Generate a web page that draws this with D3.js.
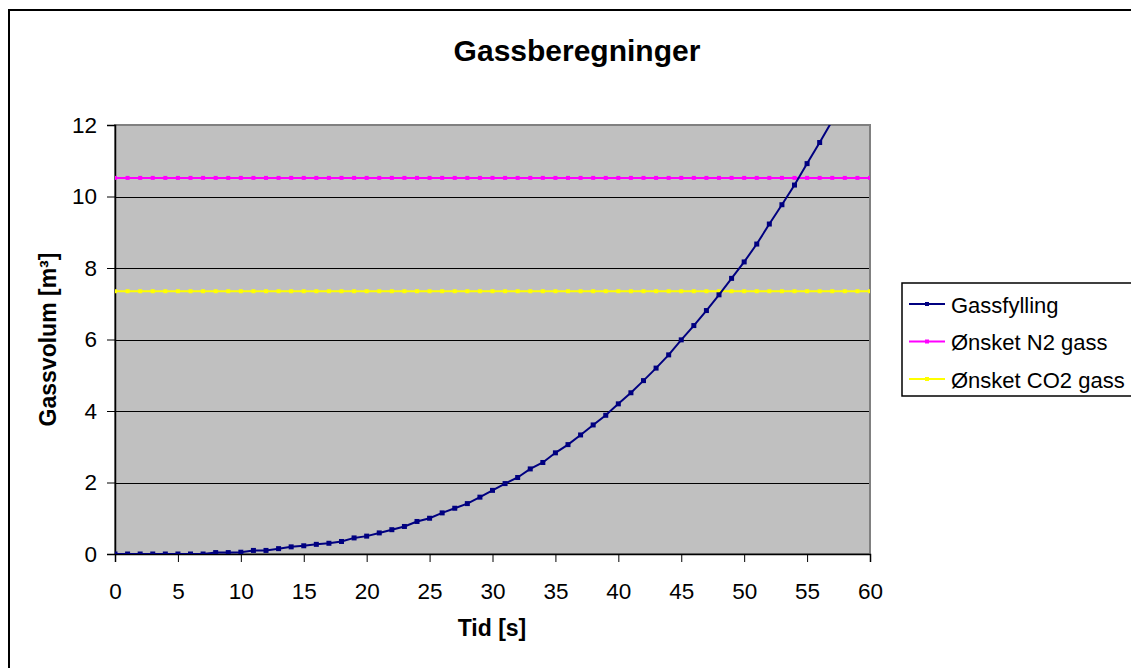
<!DOCTYPE html>
<html>
<head>
<meta charset="utf-8">
<script src="https://cdn.jsdelivr.net/npm/d3@7"></script>
<style>
  body { margin: 0; background: #fff; }
  text { font-family: "Liberation Sans", Arial, sans-serif; fill: #000; }
</style>
</head>
<body>
<svg id="chart"></svg>
<script>
// time axis, one reading per second
var tid = d3.range(0, 58);
var gassfylling = [0, 0, 0, 0, 0, 0, 0, 0, 0.04, 0.04,
  0.05, 0.1, 0.1, 0.15, 0.2, 0.23, 0.27, 0.3, 0.35, 0.45,
  0.5, 0.59, 0.68, 0.77, 0.91, 1.0, 1.15, 1.28, 1.41, 1.59,
  1.78, 1.97, 2.14, 2.38, 2.56, 2.83, 3.06, 3.33, 3.61, 3.88,
  4.2, 4.51, 4.85, 5.2, 5.57, 5.99, 6.39, 6.81, 7.25, 7.71,
  8.17, 8.67, 9.23, 9.77, 10.32, 10.92, 11.51, 12.12];
var tidFull = d3.range(0, 61);
var n2Gass = 10.52;
var co2Gass = 7.35;
var xTicks = [0, 5, 10, 15, 20, 25, 30, 35, 40, 45, 50, 55, 60];
var yTicks = [0, 2, 4, 6, 8, 10, 12];
var seriesNames = ["Gassfylling", "Ønsket N2 gass", "Ønsket CO2 gass"];
var seriesColors = ["#000080", "#FF00FF", "#FFFF00"];

var svgWidth = 1131, svgHeight = 668;
var plot = {left: 115, top: 125, right: 870, bottom: 554};

var svg = d3.select("#chart")
    .attr("width", svgWidth)
    .attr("height", svgHeight);

// chart frame (runs off the right/bottom edge like the original)
svg.append("rect")
  .attr("x", 9).attr("y", 10)
  .attr("width", 1140).attr("height", 680)
  .attr("fill", "#fff")
  .attr("stroke", "#000")
  .attr("stroke-width", 2);

var x = d3.scaleLinear().domain([0, 60]).range([plot.left, plot.right]);
var y = d3.scaleLinear().domain([0, 12]).range([plot.bottom, plot.top]);

svg.append("defs").append("clipPath").attr("id", "clip")
  .append("rect")
  .attr("x", plot.left).attr("y", plot.top)
  .attr("width", plot.right - plot.left)
  .attr("height", plot.bottom - plot.top);

// plot background
svg.append("rect")
  .attr("x", plot.left).attr("y", plot.top)
  .attr("width", plot.right - plot.left)
  .attr("height", plot.bottom - plot.top)
  .attr("fill", "#C0C0C0");

// gridlines
svg.append("g")
  .selectAll("line")
  .data(yTicks.filter(function(d){ return d > 0 && d < 12; }))
  .enter()
  .append("line")
    .attr("x1", plot.left).attr("x2", plot.right)
    .attr("y1", function(d){ return Math.round(y(d)) + 0.5; })
    .attr("y2", function(d){ return Math.round(y(d)) + 0.5; })
    .attr("stroke", "#000")
    .attr("stroke-width", 1);

// plot border
svg.append("rect")
  .attr("x", plot.left).attr("y", plot.top)
  .attr("width", plot.right - plot.left)
  .attr("height", plot.bottom - plot.top)
  .attr("fill", "none")
  .attr("stroke", "#808080")
  .attr("stroke-width", 2);

// axes
var xAxis = svg.append("g")
  .attr("transform", "translate(0," + plot.bottom + ")")
  .call(d3.axisBottom(x).tickValues(xTicks).tickSize(8).tickPadding(21));
var yAxis = svg.append("g")
  .attr("transform", "translate(" + plot.left + ",0)")
  .call(d3.axisLeft(y).tickValues(yTicks).tickSize(8).tickPadding(10));

[xAxis, yAxis].forEach(function(a){
  a.select(".domain").attr("stroke", "#000").attr("stroke-width", 1.5);
  a.selectAll(".tick line").attr("stroke", "#000");
  a.selectAll(".tick text")
    .style("font-family", "'Liberation Sans', Arial, sans-serif")
    .style("font-size", "22.5px")
    .attr("fill", "#000");
});

var lines = svg.append("g").attr("clip-path", "url(#clip)");
var line = d3.line()
  .x(function(d){ return x(d[0]); })
  .y(function(d){ return y(d[1]); });

var levels = [
  {val: n2Gass, color: seriesColors[1]},
  {val: co2Gass, color: seriesColors[2]}
];
levels.forEach(function(s){
  var pts = tidFull.map(function(t){ return [t, s.val]; });
  lines.append("path")
    .datum(pts)
    .attr("d", line)
    .attr("fill", "none")
    .attr("stroke", s.color)
    .attr("stroke-width", 2);
  lines.selectAll(null)
    .data(pts)
    .enter()
    .append("rect")
      .attr("x", function(d){ return x(d[0]) - 2; })
      .attr("y", function(d){ return y(d[1]) - 2; })
      .attr("width", 4).attr("height", 4)
      .attr("fill", s.color);
});

var fillPts = tid.map(function(t, i){ return [t, gassfylling[i]]; });
lines.append("path")
  .datum(fillPts)
  .attr("d", line)
  .attr("fill", "none")
  .attr("stroke", seriesColors[0])
  .attr("stroke-width", 2);
lines.selectAll(null)
  .data(fillPts)
  .enter()
  .append("rect")
    .attr("x", function(d){ return x(d[0]) - 2.5; })
    .attr("y", function(d){ return y(d[1]) - 2.5; })
    .attr("width", 5).attr("height", 5)
    .attr("fill", seriesColors[0]);

// titles
svg.append("text")
  .attr("x", 577).attr("y", 61)
  .style("text-anchor", "middle")
  .style("font-weight", "bold")
  .style("font-size", "30px")
  .text("Gassberegninger");

svg.append("text")
  .attr("x", 492).attr("y", 636)
  .style("text-anchor", "middle")
  .style("font-weight", "bold")
  .style("font-size", "23px")
  .text("Tid [s]");

svg.append("text")
  .attr("transform", "translate(56," + ((plot.top + plot.bottom) / 2) + ") rotate(-90)")
  .style("text-anchor", "middle")
  .style("font-weight", "bold")
  .style("font-size", "23px")
  .text("Gassvolum [m³]");

// legend
var legend = svg.append("g");
legend.append("rect")
  .attr("x", 902).attr("y", 283)
  .attr("width", 240).attr("height", 113)
  .attr("fill", "#fff")
  .attr("stroke", "#000")
  .attr("stroke-width", 1.5);

var item = legend.selectAll("g.item")
  .data(seriesNames)
  .enter()
  .append("g")
    .attr("class", "item")
    .attr("transform", function(d, i){ return "translate(0," + (304 + i * 37.5) + ")"; });
item.append("line")
  .attr("x1", 909).attr("x2", 945)
  .attr("stroke", function(d, i){ return seriesColors[i]; })
  .attr("stroke-width", 2);
item.append("rect")
  .attr("x", 925).attr("y", -2).attr("width", 4).attr("height", 4)
  .attr("fill", function(d, i){ return seriesColors[i]; });
item.append("text")
  .attr("x", 951).attr("y", 8.5)
  .style("font-size", "22px")
  .text(function(d){ return d; });
</script>
</body>
</html>
